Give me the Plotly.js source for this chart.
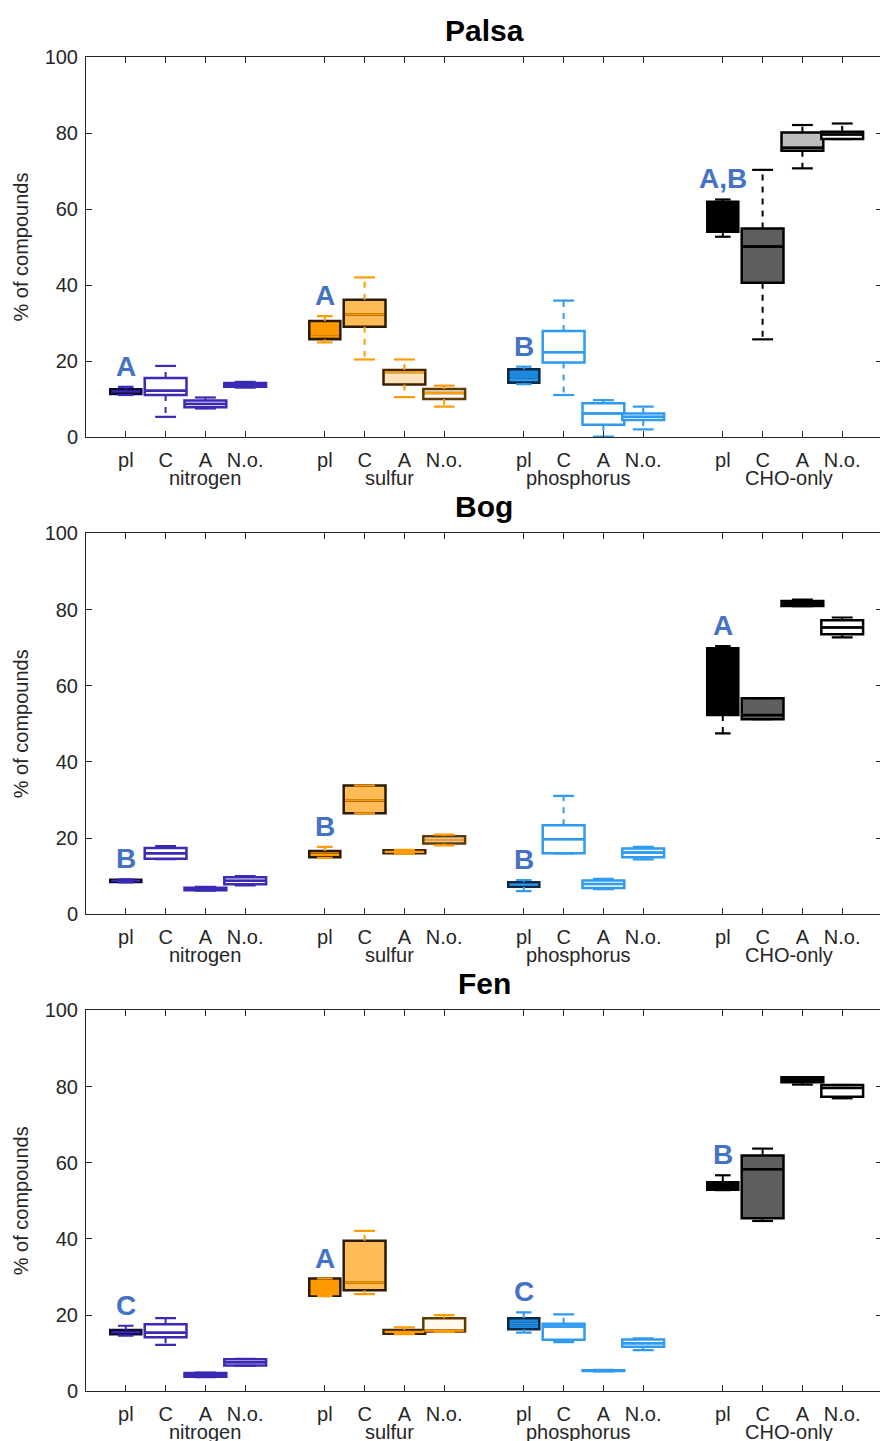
<!DOCTYPE html>
<html>
<head>
<meta charset="utf-8">
<script src="https://cdn.plot.ly/plotly-3.0.1.min.js"></script>
<style>
html, body { margin: 0; padding: 0; overflow: hidden; background: #fff; }
#chart { width: 884px; height: 1441px; }
</style>
</head>
<body>
<div id="chart"></div>
<script>
// ---------------- data ----------------
const positions = [1, 2, 3, 4, 6, 7, 8, 9, 11, 12, 13, 14, 16, 17, 18, 19];
const tickLabels = ['pl', 'C', 'A', 'N.o.', 'pl', 'C', 'A', 'N.o.', 'pl', 'C', 'A', 'N.o.', 'pl', 'C', 'A', 'N.o.'];
const groupNames = ['nitrogen', 'sulfur', 'phosphorus', 'CHO-only'];
const panelNames = ['Palsa', 'Bog', 'Fen'];

// order: N-pl, N-C, N-A, N-No, S-pl, S-C, S-A, S-No, P-pl, P-C, P-A, P-No, CHO-pl, CHO-C, CHO-A, CHO-No
const palsaLow  = [11.05, 5.3, 7.5, 13.0, 24.9, 20.4, 10.5, 8.0, 13.9, 11.05, 0.1, 2.0, 52.7, 25.7, 70.7, 78.4];
const palsaQ1   = [11.3, 11.05, 7.8, 13.2, 25.7, 29.0, 13.8, 10.0, 14.3, 19.6, 3.2, 4.5, 54.0, 40.6, 75.3, 78.4];
const palsaMed  = [12.0, 12.2, 8.7, 13.7, 26.5, 32.3, 17.1, 11.6, 15.0, 22.3, 6.2, 5.3, 60.0, 50.1, 76.1, 79.6];
const palsaQ3   = [12.55, 15.5, 9.6, 14.2, 30.5, 36.1, 17.6, 12.6, 17.8, 27.9, 8.9, 6.2, 61.9, 54.9, 80.1, 80.3];
const palsaHigh = [13.2, 18.7, 10.4, 14.5, 31.8, 42.0, 20.4, 13.5, 18.5, 35.9, 9.7, 8.0, 62.5, 70.3, 82.1, 82.5];
const palsaLetters = ['A', 'A', 'B', 'A,B'];

const bogLow  = [8.4, 14.5, 6.2, 7.6, 14.8, 26.5, 15.9, 18.1, 6.1, 16.0, 6.6, 14.4, 47.5, 51.2, 80.9, 72.7];
const bogQ1   = [8.5, 14.6, 6.3, 7.9, 15.0, 26.5, 16.0, 18.6, 7.2, 16.0, 6.9, 15.0, 52.3, 51.2, 80.9, 73.5];
const bogMed  = [8.8, 16.0, 6.6, 8.8, 15.6, 29.9, 16.4, 19.5, 7.8, 19.7, 7.95, 16.2, 53.5, 52.3, 81.6, 75.3];
const bogQ3   = [9.1, 17.4, 7.0, 9.7, 16.6, 33.8, 16.8, 20.5, 8.4, 23.4, 8.9, 17.3, 69.8, 56.7, 82.2, 77.2];
const bogHigh = [9.2, 17.9, 7.2, 10.0, 17.7, 33.8, 16.9, 20.9, 9.0, 31.1, 9.3, 17.7, 70.4, 56.7, 82.6, 77.9];
const bogLetters = ['B', 'B', 'B', 'A'];

const fenLow  = [14.6, 12.2, 3.7, 6.7, 25.0, 25.5, 15.0, 15.6, 15.4, 12.9, 5.2, 10.8, 52.8, 44.7, 80.5, 76.9];
const fenQ1   = [15.0, 14.2, 3.8, 6.8, 25.1, 26.5, 15.1, 15.7, 16.3, 13.5, 5.3, 11.7, 52.9, 45.4, 81.1, 77.3];
const fenMed  = [15.5, 15.4, 4.3, 7.6, 25.5, 28.5, 15.6, 15.9, 17.8, 17.0, 5.4, 12.6, 54.0, 58.3, 81.8, 79.6];
const fenQ3   = [16.1, 17.6, 4.8, 8.4, 29.6, 39.5, 16.1, 19.2, 19.2, 17.7, 5.5, 13.6, 54.9, 61.9, 82.4, 80.4];
const fenHigh = [17.2, 19.2, 4.9, 8.5, 29.6, 42.1, 16.8, 20.0, 20.7, 20.2, 5.6, 13.9, 56.7, 63.7, 82.4, 80.4];
const fenLetters = ['C', 'A', 'C', 'B'];

// ---------------- styles ----------------
const groupColor = ['#3a2ab4', '#ff9a00', '#2e9af0', '#000000'];
const boxFill = [
  '#21176c', '#ffffff', '#ffffff', '#ffffff',
  '#ff9900', '#ffbb55', '#ffe2bb', '#fff9f0',
  '#1e88dc', '#ffffff', '#ffffff', '#ffffff',
  '#000000', '#5f5f5f', '#bdbdbd', '#ffffff'
];
const boxLine = [
  '#0e0b3a', '#3a2ab4', '#3a2ab4', '#3a2ab4',
  '#2a1a00', '#2a1a00', '#3a2500', '#5c3a00',
  '#0b2a4a', '#2e9af0', '#2e9af0', '#2e9af0',
  '#000000', '#000000', '#000000', '#000000'
];
const FONT = 'Liberation Sans, Arial, Helvetica, sans-serif';
const AX = '#262626';
const plWidth = 0.78, otherWidth = 1.05;
const letterColor = '#4472c4';
const groupLabelX = [3.0, 7.63, 12.38, 17.67];

const panels = [
  {low: palsaLow, q1: palsaQ1, med: palsaMed, q3: palsaQ3, high: palsaHigh, letters: palsaLetters},
  {low: bogLow, q1: bogQ1, med: bogMed, q3: bogQ3, high: bogHigh, letters: bogLetters},
  {low: fenLow, q1: fenQ1, med: fenMed, q3: fenQ3, high: fenHigh, letters: fenLetters}
];

const H = 1441;
// plot area pixel tops/bottoms
const areaPx = [[57, 437], [533.3, 914.3], [1010.3, 1391.3]];

const traces = [];
const annotations = [];
const layout = {
  width: 884, height: H,
  margin: {l: 86, r: 2, t: 0, b: 0},
  paper_bgcolor: '#ffffff', plot_bgcolor: '#ffffff',
  showlegend: false,
  font: {family: FONT, color: AX, size: 20},
  annotations: annotations
};

panels.forEach((p, pi) => {
  const sfx = pi === 0 ? '' : String(pi + 1);
  const xa = 'x' + sfx, ya = 'y' + sfx;
  const dom = [1 - areaPx[pi][1] / H, 1 - areaPx[pi][0] / H];

  layout['xaxis' + sfx] = {
    domain: [0, 1], range: [0, 20], anchor: ya,
    tickmode: 'array', tickvals: positions, ticktext: tickLabels,
    ticks: 'inside', ticklen: 6, tickwidth: 1, tickcolor: AX,
    showline: true, linecolor: AX, linewidth: 1, mirror: 'ticks',
    showgrid: false, zeroline: false, ticklabelstandoff: 5,
    tickfont: {family: FONT, size: 20, color: AX},
    fixedrange: true
  };
  layout['yaxis' + sfx] = {
    domain: dom, range: [0, 100], anchor: xa,
    tickmode: 'linear', tick0: 0, dtick: 20,
    ticks: 'inside', ticklen: 6, tickwidth: 1, tickcolor: AX,
    showline: true, linecolor: AX, linewidth: 1, mirror: 'ticks',
    showgrid: false, zeroline: false, ticklabelstandoff: 3,
    tickfont: {family: FONT, size: 20, color: AX},
    title: {text: '% of compounds', font: {family: FONT, size: 20, color: AX}, standoff: 10},
    fixedrange: true
  };

  // stems, caps, medians per group colour
  const stems = [[], [], [], []].map(() => ({x: [], y: []}));
  const caps = [[], [], [], []].map(() => ({x: [], y: []}));
  const meds = [[], [], [], []].map(() => ({x: [], y: []}));

  positions.forEach((pos, i) => {
    const g = Math.floor(i / 4);
    const w = (i % 4 === 0) ? plWidth : otherWidth;
    traces.push({
      type: 'box', x: [pos],
      q1: [p.q1[i]], median: [p.med[i]], q3: [p.q3[i]],
      lowerfence: [p.q1[i]], upperfence: [p.q3[i]],
      width: w, whiskerwidth: 0, boxpoints: false,
      fillcolor: boxFill[i], line: {color: boxLine[i], width: 2.5},
      xaxis: xa, yaxis: ya, hoverinfo: 'skip', showlegend: false
    });
    const cw = w * 0.25;
    stems[g].x.push(pos, pos, null, pos, pos, null);
    stems[g].y.push(p.q3[i], p.high[i], null, p.q1[i], p.low[i], null);
    caps[g].x.push(pos - cw, pos + cw, null, pos - cw, pos + cw, null);
    caps[g].y.push(p.high[i], p.high[i], null, p.low[i], p.low[i], null);
    const mw = w / 2 - 0.03;
    meds[g].x.push(pos - mw, pos + mw, null);
    meds[g].y.push(p.med[i], p.med[i], null);
  });

  for (let g = 0; g < 4; g++) {
    traces.push({type: 'scatter', mode: 'lines', x: stems[g].x, y: stems[g].y,
      line: {color: groupColor[g], width: 2, dash: '6px,6px'}, connectgaps: false,
      xaxis: xa, yaxis: ya, hoverinfo: 'skip', showlegend: false});
    traces.push({type: 'scatter', mode: 'lines', x: caps[g].x, y: caps[g].y,
      line: {color: groupColor[g], width: 2.2}, connectgaps: false,
      xaxis: xa, yaxis: ya, hoverinfo: 'skip', showlegend: false});
    traces.push({type: 'scatter', mode: 'lines', x: meds[g].x, y: meds[g].y,
      line: {color: groupColor[g], width: 2.2}, connectgaps: false,
      xaxis: xa, yaxis: ya, hoverinfo: 'skip', showlegend: false});
  }

  // panel title
  annotations.push({
    text: panelNames[pi], showarrow: false,
    xref: xa + ' domain', x: 0.5, yref: ya + ' domain', y: 1,
    xanchor: 'center', yanchor: 'bottom', yshift: 8,
    font: {family: FONT, size: 30, color: '#000000', weight: 'bold'}
  });
  // group labels
  groupNames.forEach((gn, g) => {
    annotations.push({
      text: gn, showarrow: false,
      xref: xa, x: groupLabelX[g], yref: ya + ' domain', y: 0,
      xanchor: 'center', yanchor: 'top', yshift: -28,
      font: {family: FONT, size: 20, color: AX}
    });
  });
  // significance letters above pl boxes
  p.letters.forEach((lt, g) => {
    const i = g * 4;
    annotations.push({
      text: lt, showarrow: false,
      xref: xa, x: positions[i], yref: ya, y: p.high[i],
      xanchor: 'center', yanchor: 'bottom', yshift: 3,
      font: {family: FONT, size: 28, color: letterColor, weight: 'bold'}
    });
  });
});

Plotly.newPlot('chart', traces, layout, {staticPlot: true, displayModeBar: false});
</script>
</body>
</html>
